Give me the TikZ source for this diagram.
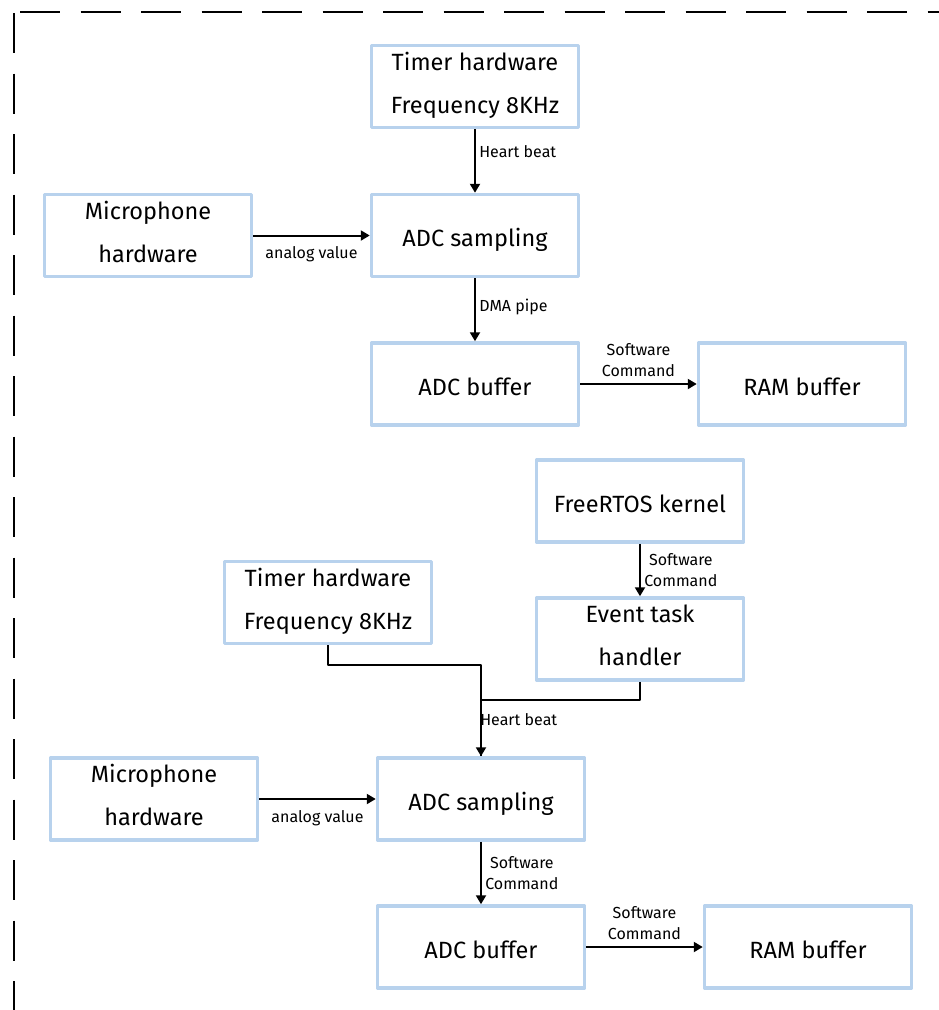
\documentclass[tikz,border=0pt]{standalone}
\usepackage{fontspec}
\setmainfont{Fira Sans}
\usetikzlibrary{arrows.meta, positioning}
\definecolor{boxedge}{RGB}{184,210,237}

\begin{document}
\begin{tikzpicture}[x=1pt, y=-1pt, >={Triangle[length=9pt,width=10pt]}, line join=round,
    block/.style={draw=boxedge, line width=3.5pt, fill=white, minimum width=207pt,
      minimum height=82pt, align=center, font=\fontsize{23.5}{43}\selectfont},
    oneline/.style={block, text height=27pt, text depth=5pt},
    twoline/.style={block, text depth=8pt},
    lbl/.style={font=\fontsize{16}{21}\selectfont, align=center},
    wire/.style={line width=2pt}]
      \useasboundingbox (0,0) rectangle (939,1010);
      % frame
      \draw[line width=2.5pt, dash pattern=on 40pt off 20.5pt] (20,12) -- (939,12);
      \draw[line width=2.5pt, dash pattern=on 40pt off 20.5pt] (14,13) -- (14,1010);
      % upper chain
      \node[twoline] (timerA) at (475,86.5) {Timer hardware\\Frequency 8KHz};
      \node[oneline] (adcA) at (475,235.5) {ADC sampling};
      \node[twoline] (micA) at (148,235.5) {Microphone\\hardware};
      \node[oneline] (bufA) at (475,384) {ADC buffer};
      \node[oneline] (ramA) at (802,384) {RAM buffer};
      \draw[wire,->] (timerA) -- node[lbl, pos=0.35, anchor=west] {Heart beat} (adcA);
      \draw[wire,->] (micA) -- node[lbl, below=7pt] {analog value} (adcA);
      \draw[wire,->] (adcA) -- node[lbl, pos=0.45, anchor=west] {DMA pipe} (bufA);
      \draw[wire,->] (bufA) -- node[lbl, above=3pt] {Software\\Command} (ramA);
      % lower chain
      \node[oneline] (rtos) at (640,501) {FreeRTOS kernel};
      \node[twoline] (timerB) at (328,602.5) {Timer hardware\\Frequency 8KHz};
      \node[twoline] (event) at (640,639) {Event task\\handler};
      \node[oneline] (adcB) at (481,799) {ADC sampling};
      \node[twoline] (micB) at (154,799) {Microphone\\hardware};
      \node[oneline] (bufB) at (481,947) {ADC buffer};
      \node[oneline] (ramB) at (808,947) {RAM buffer};
      \draw[wire,->] (rtos) -- node[lbl, anchor=west] {Software\\Command} (event);
      \draw[wire] (event.south) -- ++(0,18) -| (adcB.north);
      \draw[wire,->] (timerB.south) -- ++(0,20) -| node[lbl, pos=0.8, anchor=west, xshift=-5pt] {Heart beat} (adcB.north);
      \draw[wire,->] (micB) -- node[lbl, below=7pt] {analog value} (adcB);
      \draw[wire,->] (adcB) -- node[lbl, anchor=west] {Software\\Command} (bufB);
      \draw[wire,->] (bufB) -- node[lbl, above=3pt] {Software\\Command} (ramB);
    \end{tikzpicture}
\end{document}
